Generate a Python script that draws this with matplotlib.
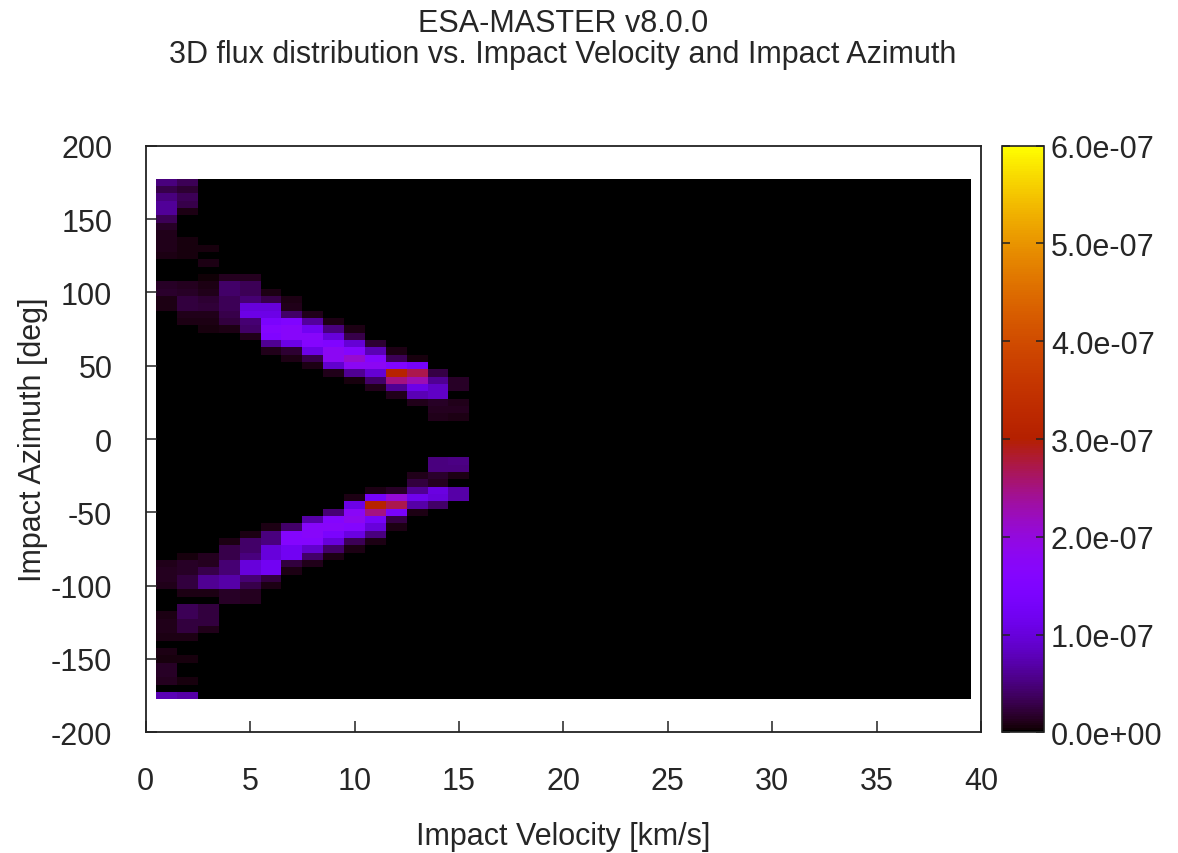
import numpy as np
import matplotlib
matplotlib.use("Agg")
import matplotlib.pyplot as plt
from matplotlib.ticker import FormatStrFormatter

# ---------------- data ----------------
# bin centres of the 3D flux histogram
velocity_bins = list(range(1, 40))            # km/s
azimuth_bins = list(range(-175, 180, 5))      # deg
flux_unit = 1e-7                              # values below are in units of 1e-7

# non-zero flux per velocity bin: {azimuth: flux}
v01 = {175: 0.5, 170: 0.3, 165: 0.5, 160: 0.62, 155: 0.62, 150: 0.35, 145: 0.15,
       140: 0.1, 135: 0.1, 130: 0.1, 125: 0.08, 105: 0.15, 100: 0.18, 95: 0.08,
       90: 0.08, -85: 0.1, -90: 0.12, -95: 0.12, -100: 0.1, -120: 0.08,
       -125: 0.1, -130: 0.1, -135: 0.08, -145: 0.08, -150: 0.06, -155: 0.15,
       -160: 0.15, -165: 0.12, -175: 0.75}
v02 = {175: 0.35, 170: 0.2, 165: 0.33, 160: 0.3, 155: 0.08, 135: 0.07, 130: 0.07,
       125: 0.06, 105: 0.12, 100: 0.15, 95: 0.25, 90: 0.25, 85: 0.1, 80: 0.08,
       -80: 0.06, -85: 0.15, -90: 0.15, -95: 0.25, -100: 0.25, -105: 0.08,
       -115: 0.35, -120: 0.35, -125: 0.25, -130: 0.25, -135: 0.08, -150: 0.05,
       -165: 0.05, -175: 0.7}
v03 = {130: 0.06, 120: 0.08, 110: 0.03, 105: 0.08, 100: 0.1, 95: 0.2, 90: 0.22,
       85: 0.1, 80: 0.08, 75: 0.05, -80: 0.12, -85: 0.12, -90: 0.3, -95: 0.6,
       -100: 0.6, -105: 0.08, -115: 0.25, -120: 0.25, -125: 0.25, -130: 0.1}
v04 = {110: 0.12, 105: 0.4, 100: 0.4, 95: 0.35, 90: 0.35, 85: 0.3, 80: 0.25,
       75: 0.08, -70: 0.08, -75: 0.3, -80: 0.3, -85: 0.45, -90: 0.45, -95: 0.7,
       -100: 0.7, -105: 0.15, -110: 0.15}
v05 = {110: 0.12, 105: 0.35, 100: 0.35, 95: 0.45, 90: 1.0, 85: 1.1, 80: 0.45,
       75: 0.4, 70: 0.1, -65: 0.08, -70: 0.4, -75: 0.4, -80: 0.5, -85: 1.0,
       -90: 1.0, -95: 0.45, -100: 0.3, -105: 0.12, -110: 0.12}
v06 = {100: 0.08, 95: 0.3, 90: 1.0, 85: 1.1, 80: 1.4, 75: 1.6, 70: 1.5, 65: 0.6,
       60: 0.1, -60: 0.08, -65: 0.5, -70: 0.5, -75: 1.0, -80: 1.0, -85: 1.2,
       -90: 1.2, -95: 0.25, -100: 0.08}
v07 = {95: 0.08, 90: 0.1, 85: 0.4, 80: 1.5, 75: 1.7, 70: 1.7, 65: 1.1, 60: 0.2,
       55: 0.08, -60: 0.4, -65: 1.6, -70: 1.6, -75: 1.2, -80: 1.2, -85: 0.25,
       -90: 0.08}
v08 = {85: 0.1, 80: 0.65, 75: 1.2, 70: 1.7, 65: 1.6, 60: 1.1, 55: 0.3, 50: 0.08,
       -55: 0.7, -60: 1.7, -65: 1.7, -70: 1.6, -75: 0.9, -80: 0.4, -85: 0.1}
v09 = {80: 0.08, 75: 0.5, 70: 1.0, 65: 1.5, 60: 1.8, 55: 1.8, 50: 0.9, 45: 0.1,
       -50: 0.45, -55: 1.6, -60: 1.7, -65: 1.4, -70: 1.0, -75: 0.4, -80: 0.08}
v10 = {75: 0.08, 70: 0.3, 65: 0.95, 60: 1.6, 55: 2.1, 50: 1.8, 45: 0.6, 40: 0.05,
       -40: 0.08, -45: 1.1, -50: 1.75, -55: 1.85, -60: 1.6, -65: 1.05, -70: 0.35,
       -75: 0.08}
v11 = {65: 0.2, 60: 0.75, 55: 1.6, 50: 1.8, 45: 0.95, 40: 0.4, 35: 0.1,
       -35: 0.08, -40: 1.3, -45: 3.1, -50: 2.5, -55: 1.3, -60: 1.0, -65: 0.5,
       -70: 0.08}
v12 = {60: 0.08, 55: 0.35, 50: 1.5, 45: 3.1, 40: 2.5, 35: 0.6, 30: 0.1,
       -35: 0.15, -40: 2.05, -45: 2.7, -50: 1.35, -55: 0.28, -60: 0.08}
v13 = {55: 0.05, 50: 1.3, 45: 2.7, 40: 2.25, 35: 1.1, 30: 0.75, 25: 0.1,
       -25: 0.1, -30: 0.25, -35: 0.6, -40: 1.15, -45: 0.7, -50: 0.08}
v14 = {45: 0.28, 40: 0.6, 35: 0.85, 30: 0.85, 25: 0.15, 20: 0.12, 15: 0.1,
       -15: 0.5, -20: 0.5, -25: 0.18, -30: 0.12, -35: 1.05, -40: 1.0, -45: 0.4}
v15 = {40: 0.15, 35: 0.15, 25: 0.1, 20: 0.12, 15: 0.08, -15: 0.52, -20: 0.5,
       -25: 0.08, -35: 0.7, -40: 0.7}

flux_columns = {1: v01, 2: v02, 3: v03, 4: v04, 5: v05, 6: v06, 7: v07, 8: v08,
                9: v09, 10: v10, 11: v11, 12: v12, 13: v13, 14: v14, 15: v15}

xticks = [0, 5, 10, 15, 20, 25, 30, 35, 40]
yticks = [-200, -150, -100, -50, 0, 50, 100, 150, 200]
cbticks = [0, 1e-7, 2e-7, 3e-7, 4e-7, 5e-7, 6e-7]

title1 = "ESA-MASTER v8.0.0"
title2 = "3D flux distribution vs. Impact Velocity and Impact Azimuth"
xlabel = "Impact Velocity [km/s]"
ylabel = "Impact Azimuth [deg]"

# ---------------- grid ----------------
vel = np.array(velocity_bins, dtype=float)
az = np.array(azimuth_bins, dtype=float)
Z = np.zeros((len(az), len(vel)))
for v, col in flux_columns.items():
    j = velocity_bins.index(v)
    for a, f in col.items():
        i = azimuth_bins.index(a)
        Z[i, j] = f * flux_unit

dv = vel[1] - vel[0]
da = az[1] - az[0]
x_edges = np.append(vel - dv / 2, vel[-1] + dv / 2)
y_edges = np.append(az - da / 2, az[-1] + da / 2)

# ---------------- figure ----------------
plt.rcParams['font.family'] = ['Liberation Sans', 'DejaVu Sans']
plt.rcParams['axes.unicode_minus'] = False
W, H = 1178, 854
fig = plt.figure(figsize=(W / 100, H / 100), dpi=100)
fig.patch.set_facecolor('white')

def px_box(l, t, r, b):
    return [l / W, 1 - b / H, (r - l) / W, (b - t) / H]

ax = fig.add_axes(px_box(145.7, 146.7, 981.0, 733.3))
mesh = ax.pcolormesh(x_edges, y_edges, Z, cmap='gnuplot', vmin=0, vmax=6e-7,
                     shading='flat', antialiased=False, linewidth=0)

txt_col = '#262626'
fs = 22
ax.set_xlim(0, 40)
ax.set_ylim(-200, 200)
ax.set_xticks(xticks)
ax.set_yticks(yticks)
ax.tick_params(axis='both', direction='in', length=8, width=1.1, color='#222222',
               labelsize=fs, labelcolor=txt_col)
ax.tick_params(axis='x', pad=24)
ax.tick_params(axis='y', pad=24)
for s in ax.spines.values():
    s.set_linewidth(1.3)
    s.set_color('#222222')

cax = fig.add_axes(px_box(1002.0, 146.7, 1044.0, 733.3))
cb = fig.colorbar(mesh, cax=cax, ticks=cbticks)
cb.ax.yaxis.set_major_formatter(FormatStrFormatter('%.1e'))
cb.outline.set_linewidth(1.2)
cb.outline.set_edgecolor('#222222')
cax.tick_params(direction='in', left=True, right=True, length=6, width=1.1,
                color='#222222', labelsize=fs, labelcolor=txt_col, pad=5)

fig.text(563 / W, 1 - 31.7 / H, title1, ha='center', va='baseline',
         fontsize=fs, color=txt_col)
fig.text(563 / W, 1 - 63.3 / H, title2, ha='center', va='baseline',
         fontsize=fs, color=txt_col)
fig.text(563 / W, 1 - 845 / H, xlabel, ha='center', va='baseline',
         fontsize=fs, color=txt_col)
fig.text(33 / W, 1 - 440 / H, ylabel, ha='center', va='center', rotation=90,
         fontsize=fs, color=txt_col)

fig.savefig('out.png', dpi=100, facecolor='white')
